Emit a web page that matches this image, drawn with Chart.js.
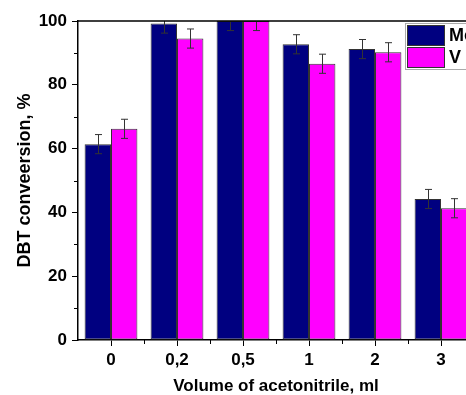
<!DOCTYPE html>
<html>
<head>
<meta charset="utf-8">
<style>
  html, body { margin: 0; padding: 0; background: #fff; width: 466px; height: 395px; overflow: hidden; }
  #wrap { width: 500px; height: 395px; }
</style>
<script src="https://cdn.jsdelivr.net/npm/chart.js@4.4.1/dist/chart.umd.min.js"></script>
</head>
<body>
<div id="wrap"><canvas id="c" width="500" height="395"></canvas></div>
<script>
// --- data ---
const categories = ['0', '0,2', '0,5', '1', '2', '3'];
const seriesNames = ['Mo', 'V'];
const moValues = [61.4, 99.2, 100, 92.7, 91.2, 44.2];
const vValues = [66.2, 94.5, 100, 86.6, 90.2, 41.3];
const moErrors = [3, 3, 3, 3, 3, 3];
const vErrors = [3, 3, 3, 3, 3, 3];
const yMinorTicks = [10, 30, 50, 70, 90];

const FONT = '"Liberation Sans", Arial, sans-serif';
const colors = ['#000080', '#FF00FF'];
const errors = [moErrors, vErrors];

// error bars, clipped to the plot
const errorBars = {
  id: 'errorBars',
  afterDatasetsDraw(chart) {
    const { ctx, chartArea: a, scales: { y } } = chart;
    ctx.save();
    ctx.beginPath();
    ctx.rect(a.left, a.top, a.right - a.left, a.bottom - a.top);
    ctx.clip();
    ctx.strokeStyle = '#333';
    ctx.lineWidth = 1;
    chart.data.datasets.forEach((ds, di) => {
      chart.getDatasetMeta(di).data.forEach((bar, i) => {
        const v = ds.data[i], e = errors[di][i];
        const y1 = y.getPixelForValue(v + e), y2 = y.getPixelForValue(v - e);
        const x = Math.round(bar.x) + 0.5;
        ctx.beginPath();
        ctx.moveTo(x, y1); ctx.lineTo(x, y2);
        ctx.moveTo(x - 3.5, y1); ctx.lineTo(x + 3.5, y1);
        ctx.moveTo(x - 3.5, y2); ctx.lineTo(x + 3.5, y2);
        ctx.stroke();
      });
    });
    ctx.restore();
  }
};

// top frame line, minor ticks and the inset legend
const frame = {
  id: 'frame',
  afterDraw(chart) {
    const { ctx, chartArea: a, scales: { x, y } } = chart;
    ctx.save();
    ctx.strokeStyle = '#000';
    ctx.lineWidth = 1.5;
    ctx.beginPath();
    ctx.moveTo(a.left, a.top); ctx.lineTo(a.right, a.top); ctx.lineTo(a.right, a.bottom);
    ctx.stroke();
    ctx.lineWidth = 1;
    ctx.beginPath();
    yMinorTicks.forEach(v => {
      const py = Math.round(y.getPixelForValue(v)) + 0.5;
      ctx.moveTo(a.left - 4, py); ctx.lineTo(a.left, py);
    });
    for (let i = 1; i <= categories.length; i++) {
      const px = Math.round((x.getPixelForValue(i - 1) + x.getPixelForValue(Math.min(i, categories.length - 1)) ) / 2) + 0.5;
      const bx = i === categories.length ? a.right : px;
      ctx.moveTo(bx, a.bottom); ctx.lineTo(bx, a.bottom + 4);
    }
    ctx.stroke();

    // legend
    const lx = a.right - 69, ly = a.top + 2;
    ctx.fillStyle = '#fff';
    ctx.fillRect(lx, ly, a.right - 2 - lx, 46);
    ctx.strokeStyle = '#aaa';
    ctx.lineWidth = 1;
    ctx.strokeRect(lx + 0.5, ly + 0.5, a.right - 2 - lx, 46);
    ctx.font = 'bold 18px ' + FONT;
    ctx.textBaseline = 'middle';
    seriesNames.forEach((name, i) => {
      const sy = ly + 2 + i * 22;
      ctx.fillStyle = colors[i];
      ctx.fillRect(lx + 2, sy, 38, 21);
      ctx.strokeStyle = '#333';
      ctx.strokeRect(lx + 2.5, sy + 0.5, 37, 20);
      ctx.fillStyle = '#000';
      ctx.fillText(name, lx + 44, sy + 11);
    });
    ctx.restore();
  }
};

const tickFont = { family: FONT, size: 17, weight: 'bold' };

new Chart(document.getElementById('c'), {
  type: 'bar',
  data: {
    labels: categories,
    datasets: [
      { label: seriesNames[0], data: moValues, backgroundColor: colors[0] },
      { label: seriesNames[1], data: vValues, backgroundColor: colors[1] },
    ],
  },
  options: {
    responsive: false,
    animation: false,
    devicePixelRatio: 1,
    layout: { padding: { left: 0, top: 21, right: 26, bottom: 0 } },
    datasets: {
      bar: {
        barPercentage: 1,
        categoryPercentage: 0.8,
        borderColor: '#333',
        borderWidth: 1,
        borderSkipped: false,
      },
    },
    plugins: { legend: { display: false }, tooltip: { enabled: false } },
    scales: {
      x: {
        grid: { display: true, drawOnChartArea: false, offset: false, tickLength: 6, tickColor: '#000', tickWidth: 1 },
        border: { display: true, color: '#000', width: 1.5 },
        ticks: { color: '#000', font: tickFont, padding: 4, maxRotation: 0 },
        title: { display: true, text: 'Volume of acetonitrile, ml', color: '#000',
                 font: { family: FONT, size: 17, weight: 'bold' }, padding: { top: 0, bottom: -2 } },
        afterFit(s) { s.height = 55; },
      },
      y: {
        min: 0, max: 100,
        ticks: { stepSize: 20, color: '#000', font: tickFont, padding: 5 },
        grid: { display: true, drawOnChartArea: false, tickLength: 6, tickColor: '#000', tickWidth: 1 },
        border: { display: true, color: '#000', width: 1.5 },
        title: { display: true, text: 'DBT conveersion, %', color: '#000',
                 font: { family: FONT, size: 18, weight: 'bold' }, padding: { top: 14, bottom: 0 } },
        afterFit(s) { s.width = 78; },
      },
    },
  },
  plugins: [errorBars, frame],
});
</script>
</body>
</html>
